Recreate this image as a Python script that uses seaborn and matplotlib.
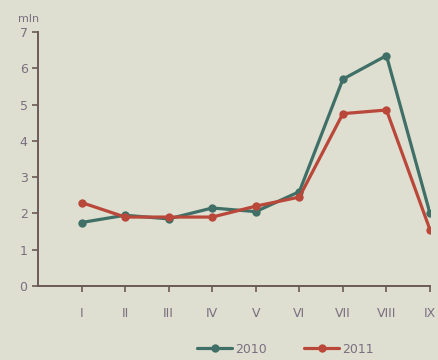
import matplotlib
matplotlib.use("Agg")
import matplotlib.pyplot as plt
import seaborn as sns
import pandas as pd

months = ["I", "II", "III", "IV", "V", "VI", "VII", "VIII", "IX"]
values_2010 = [1.75, 1.95, 1.85, 2.15, 2.05, 2.6, 5.7, 6.35, 2.0]
values_2011 = [2.3, 1.9, 1.9, 1.9, 2.2, 2.45, 4.75, 4.85, 1.55]
series_names = ["2010", "2011"]
y_ticks = [0, 1, 2, 3, 4, 5, 6, 7]
unit_label = "mln"

bg = "#dedfd0"
colors = {"2010": "#3f6f66", "2011": "#b9473a"}
text_col = "#7a6f80"

df = pd.DataFrame({
    "pos": list(range(1, len(months) + 1)) * 2,
    "value": values_2010 + values_2011,
    "year": [series_names[0]] * len(months) + [series_names[1]] * len(months),
})

sns.set_style("ticks")
fig = plt.figure(figsize=(4.39, 3.6), dpi=100, facecolor=bg)
ax = fig.add_axes([38 / 439, 74 / 360, 392 / 439, 254 / 360])
ax.set_facecolor(bg)

sns.lineplot(data=df, x="pos", y="value", hue="year", palette=colors,
             marker="o", markersize=6, markeredgewidth=0, linewidth=2.3,
             ax=ax, legend=False)

ax.set_xlim(0, 9)
ax.set_ylim(0, 7)
ax.set_xticks(range(1, len(months) + 1))
ax.set_xticklabels(months)
ax.set_yticks(y_ticks)
ax.set_xlabel("")
ax.set_ylabel("")
for s in ["top", "right"]:
    ax.spines[s].set_visible(False)
for s in ["left", "bottom"]:
    ax.spines[s].set_color("#6b5a55")
    ax.spines[s].set_linewidth(1.4)
ax.tick_params(axis="both", colors="#6b5a55", length=4, width=1.2,
               labelcolor=text_col, labelsize=9)
ax.tick_params(axis="x", pad=11)
ax.text(-0.05, 1.05, unit_label, transform=ax.transAxes, fontsize=8,
        color=text_col, ha="left", va="center")

handles = [plt.Line2D([], [], color=colors[n], marker="o", markersize=6,
                      markeredgewidth=0, linewidth=2.3) for n in series_names]
fig.legend(handles, series_names, loc="center", bbox_to_anchor=(0.65, 0.03),
           ncol=2, frameon=False, fontsize=9, labelcolor=text_col,
           handlelength=2.8, handletextpad=0.2, columnspacing=3.0)

fig.savefig("out.png", dpi=100, facecolor=bg)
